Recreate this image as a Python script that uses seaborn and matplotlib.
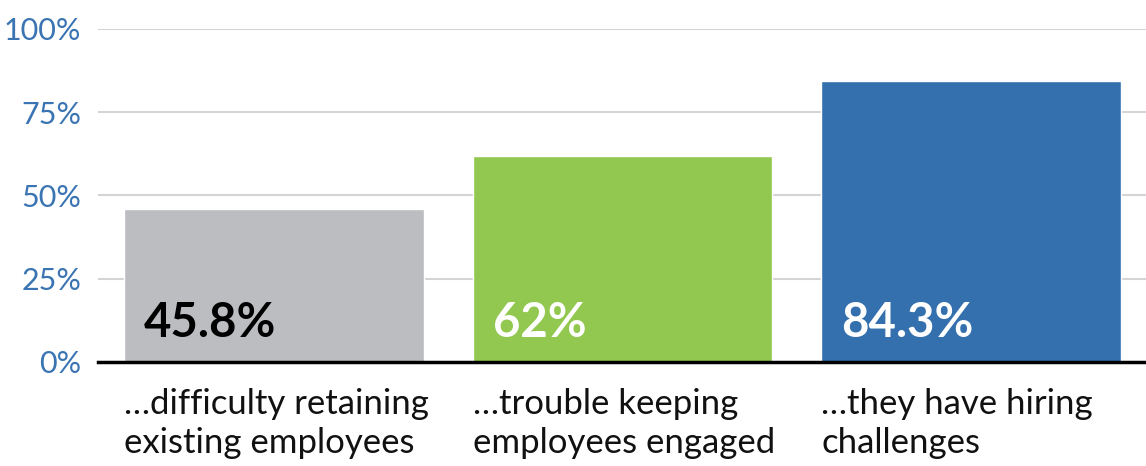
import matplotlib
matplotlib.use("Agg")
import matplotlib.pyplot as plt
import seaborn as sns
import pandas as pd

# data
categories = ["\u2026difficulty retaining\nexisting employees",
              "\u2026trouble keeping\nemployees engaged",
              "\u2026they have hiring\nchallenges"]
values = [45.8, 62.0, 84.3]
value_labels = ["45.8%", "62%", "84.3%"]
bar_colors = ["#BCBDC0", "#92C84F", "#3370AD"]
label_colors = ["#000000", "#FFFFFF", "#FFFFFF"]
y_ticks = [0, 25, 50, 75, 100]

sns.set_style("white")
plt.rcParams["font.family"] = ["Lato", "DejaVu Sans"]

df = pd.DataFrame({"cat": categories, "val": values})

fig = plt.figure(figsize=(11.46, 4.66), dpi=100)
ax = fig.add_axes([0.0855, 0.2232, 0.9145, 0.7146])

bar_w = 0.86
sns.barplot(data=df, x="cat", y="val", hue="cat", palette=bar_colors,
            width=bar_w, saturation=1, legend=False, ax=ax, zorder=3)

ax.set_ylim(0, 100)
ax.set_xlim(-0.505, 2.502)
ax.set_yticks(y_ticks)
ax.set_yticklabels([f"{t}%" for t in y_ticks], color="#3A74B3", fontsize=22)
ax.yaxis.grid(True, color="#D4D4D4", linewidth=1.5, zorder=0)
ax.set_axisbelow(True)

# category labels left-aligned with the bar edges
ax.set_xticks([i - bar_w / 2 for i in range(len(categories))])
ax.set_xticklabels(categories, ha="left", fontsize=25, color="#111111",
                   linespacing=1.25)
ax.tick_params(axis="x", length=0, pad=19)
ax.tick_params(axis="y", length=0, pad=12)
ax.set_xlabel("")
ax.set_ylabel("")

for s in ["top", "right", "left"]:
    ax.spines[s].set_visible(False)
ax.spines["bottom"].set_color("black")
ax.spines["bottom"].set_linewidth(2.5)
ax.spines["bottom"].set_zorder(4)

for i, (lab, col) in enumerate(zip(value_labels, label_colors)):
    ax.text(i - bar_w / 2 + 0.057, 7.5, lab, color=col, fontsize=34,
            fontweight="bold", ha="left", va="baseline", zorder=5)

fig.savefig("out.png", dpi=100)
